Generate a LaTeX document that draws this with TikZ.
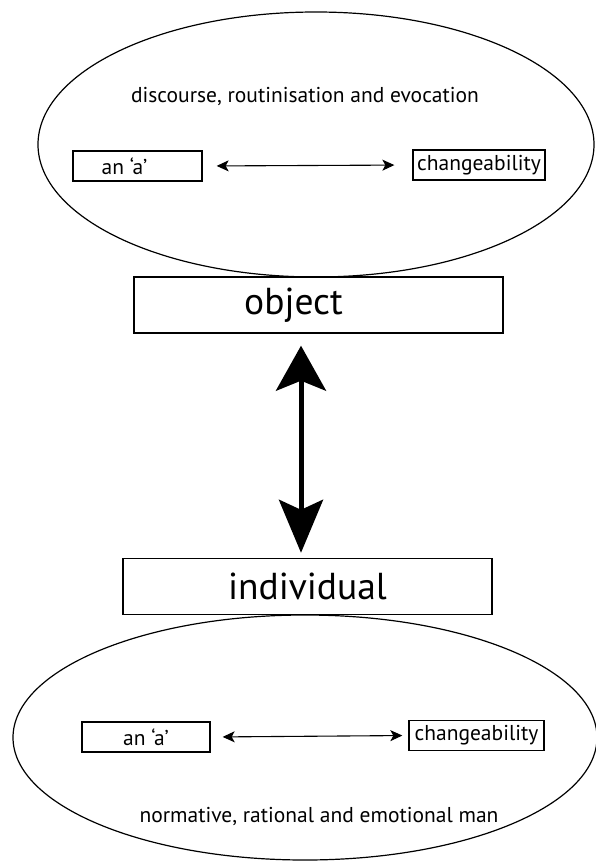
\documentclass[tikz,border=0pt]{standalone}
\usepackage{fontspec}
\setmainfont{PT Sans}
\usetikzlibrary{arrows.meta,positioning,shapes.geometric}

\begin{document}
\begin{tikzpicture}[x=1pt,y=-1pt,>={Stealth[length=12pt,width=11pt,inset=3pt]}, every node/.style={font=\fontsize{21.5}{24}\selectfont}]
\tikzstyle{oval}=[draw,ellipse,line width=1.2pt,inner sep=0pt]
\tikzstyle{smallbox}=[draw,line width=1.3pt,minimum height=30pt,inner sep=1pt]
\tikzstyle{bigbox}=[draw,line width=1.4pt,minimum width=369pt,minimum height=56pt,font=\fontsize{37.5}{40}\selectfont]
\useasboundingbox (0,0) rectangle (596,862);
% upper oval: the object side
\node[oval,minimum width=556pt,minimum height=265pt] (topoval) at (316,144.5) {};
\node (evoc) at (305,96) {discourse, routinisation and evocation};
\node[smallbox,minimum width=129pt] (topa) at (137.5,166) {an ‘a’\hspace*{26pt}};
\node[smallbox,minimum width=132pt] (topchg) at (479,165) {changeability};
\draw[<->,line width=1.1pt,shorten <=14pt,shorten >=18pt] (topa.east) -- (topchg.west);
\node[bigbox] (object) at (318.5,305) {object\hspace*{50pt}};
% lower oval: the individual side
\node[bigbox] (individual) at (307.5,586.5) {individual};
\node[oval,minimum width=584pt,minimum height=245pt] (botoval) at (305,737.5) {};
\node[smallbox,minimum width=128pt] (bota) at (146,737) {an ‘a’};
\node[smallbox,minimum width=135pt] (botchg) at (476.5,735.5) {changeability};
\draw[<->,line width=1.1pt,shorten <=12pt,shorten >=6pt] (bota.east) -- (botchg.west);
\node (man) at (319,816) {normative, rational and emotional man};
% link between the two
\draw[line width=5pt,{Stealth[length=45pt,width=50pt,inset=10pt]}-{Stealth[length=53pt,width=44pt,inset=10pt]},shorten <=12pt,shorten >=5pt] ([xshift=-17.5pt]object.south) -- ([xshift=-6.5pt]individual.north);
\end{tikzpicture}
\end{document}
